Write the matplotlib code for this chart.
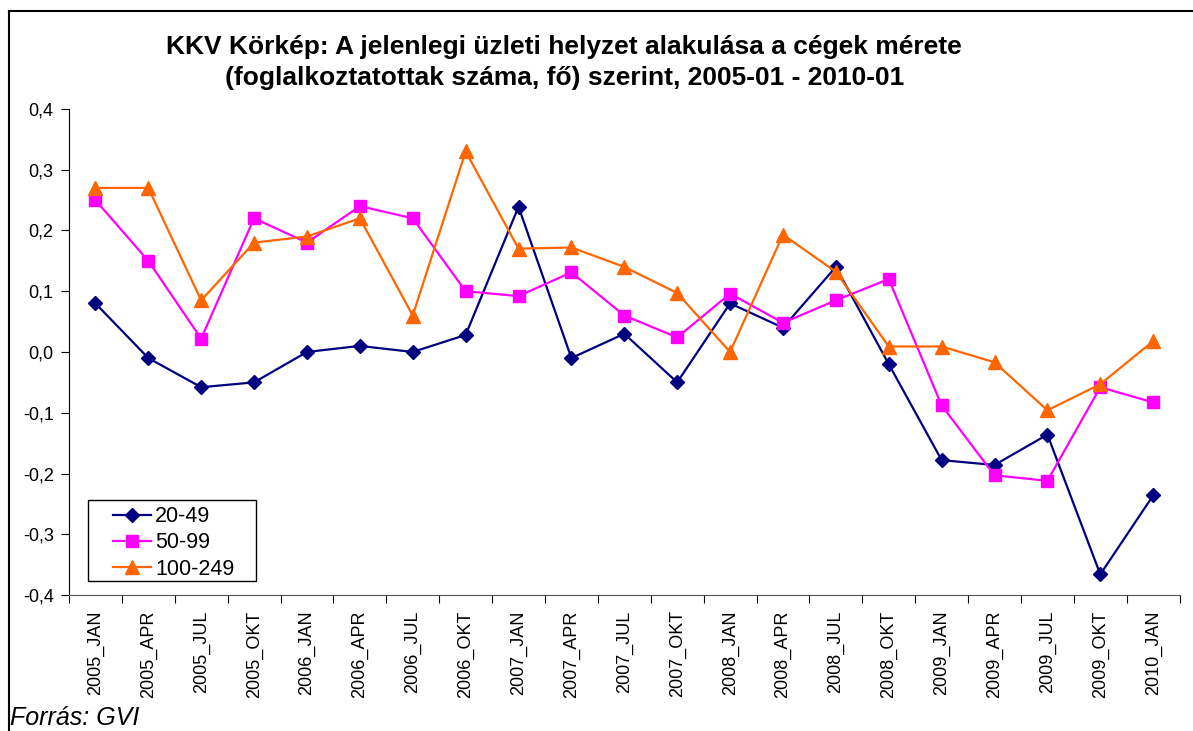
import matplotlib
matplotlib.use("Agg")
import matplotlib.pyplot as plt
from matplotlib.lines import Line2D
from matplotlib.patches import Rectangle
import numpy as np

plt.rcParams['font.family'] = ['Liberation Sans', 'DejaVu Sans']

# categories
periods = ["2005_JAN", "2005_APR", "2005_JUL", "2005_OKT",
           "2006_JAN", "2006_APR", "2006_JUL", "2006_OKT",
           "2007_JAN", "2007_APR", "2007_JUL", "2007_OKT",
           "2008_JAN", "2008_APR", "2008_JUL", "2008_OKT",
           "2009_JAN", "2009_APR", "2009_JUL", "2009_OKT",
           "2010_JAN"]

# series values
s_20_49 = [0.08, -0.01, -0.058, -0.05, 0.0, 0.01, 0.0, 0.028,
           0.239, -0.01, 0.03, -0.05, 0.08, 0.04, 0.14, -0.02,
           -0.178, -0.186, -0.136, -0.366, -0.236]
s_50_99 = [0.25, 0.15, 0.022, 0.22, 0.18, 0.24, 0.22, 0.10,
           0.092, 0.131, 0.06, 0.024, 0.096, 0.048, 0.085, 0.12,
           -0.088, -0.203, -0.212, -0.058, -0.083]
s_100_249 = [0.27, 0.27, 0.085, 0.18, 0.19, 0.22, 0.06, 0.33,
             0.17, 0.172, 0.14, 0.097, 0.0, 0.193, 0.132, 0.009,
             0.009, -0.017, -0.096, -0.053, 0.018]

yticks = [0.4, 0.3, 0.2, 0.1, 0.0, -0.1, -0.2, -0.3, -0.4]

fig = plt.figure(figsize=(11.93, 7.31), dpi=100)
ax = fig.add_axes([0.0578, 0.186, 0.931, 0.665])

x = np.arange(len(periods))
ax.plot(x, s_20_49, color="#000080", marker="D", markersize=7.5, lw=1.6,
        label="20-49")
ax.plot(x, s_50_99, color="#FF00FF", marker="s", markersize=9, lw=1.6,
        label="50-99")
ax.plot(x, s_100_249, color="#FF6600", marker="^", markersize=10, lw=1.6,
        label="100-249")

ax.set_xlim(-0.5, len(periods) - 0.5)
ax.set_ylim(-0.4, 0.4)
ax.set_yticks(yticks)
ax.set_yticklabels([("%.1f" % v).replace(".", ",") for v in yticks],
                   fontsize=13)
ax.set_xticks(np.arange(len(periods) + 1) - 0.5, minor=False)
ax.set_xticklabels([])
ax.set_xticks(x, minor=True)
ax.set_xticklabels(periods, minor=True, rotation=90, fontsize=13)
ax.tick_params(axis="x", which="minor", length=0, pad=11)
ax.tick_params(axis="x", which="major", length=6, direction="out")
ax.tick_params(axis="y", length=6, direction="out", pad=5)
for side in ["top", "right"]:
    ax.spines[side].set_visible(False)
ax.spines["left"].set_color("#000000")
ax.spines["bottom"].set_color("#555555")

# legend: entries without frame, box drawn separately (wide side padding)
leg = ax.legend(loc="upper left", bbox_to_anchor=(0.0396, 0.183),
                fontsize=15.5, frameon=False, handlelength=1.75,
                borderpad=0, borderaxespad=0, labelspacing=0.25,
                handletextpad=0.2)
ax.add_patch(Rectangle((0.0171, 0.0288), 0.1512, 0.1667,
                       transform=ax.transAxes, fill=False,
                       edgecolor="black", lw=1.0, zorder=5))

fig.text(0.473, 0.9145,
         "KKV Körkép: A jelenlegi üzleti helyzet alakulása a cégek mérete\n"
         "(foglalkoztatottak száma, fő) szerint, 2005-01 - 2010-01",
         ha="center", va="center", fontsize=19, fontweight="bold",
         linespacing=1.32)
fig.text(0.008, 0.018, "Forrás: GVI", fontsize=18, style="italic",
         ha="left", va="center")

# outer frame (top and left edge only, as in the picture)
fig.add_artist(Line2D([9 / 1193, 1.0], [1 - 11 / 731, 1 - 11 / 731],
                      transform=fig.transFigure, color="black", lw=1.5))
fig.add_artist(Line2D([9 / 1193, 9 / 1193], [0.0, 1 - 11 / 731],
                      transform=fig.transFigure, color="black", lw=1.5))

fig.savefig("out.png", dpi=100)
